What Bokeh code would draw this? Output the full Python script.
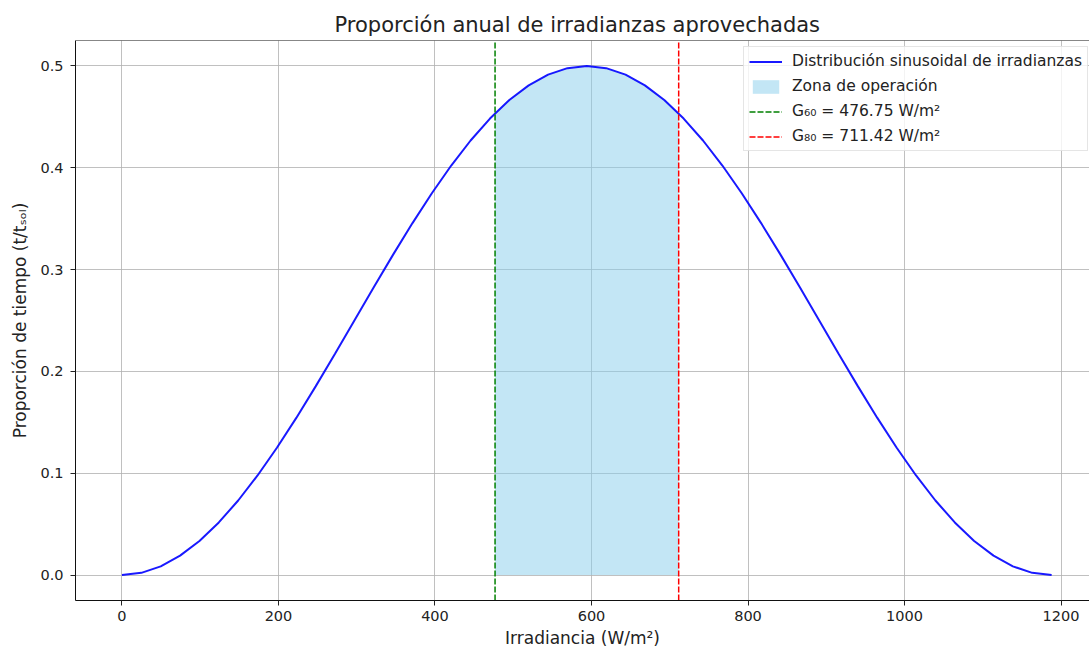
from bokeh.plotting import figure
from bokeh.models import Range1d, PrintfTickFormatter, Span, Legend, LegendItem
from bokeh.embed import file_html
from bokeh.resources import INLINE

# ---- data ----
irradiance = [0, 24.75, 49.5, 74.25, 99, 123.75, 148.5, 173.25, 198, 222.75, 247.5,
              272.25, 297, 321.75, 346.5, 371.25, 396, 420.75, 445.5, 470.25, 495,
              519.75, 544.5, 569.25, 594, 618.75, 643.5, 668.25, 693, 717.75, 742.5,
              767.25, 792, 816.75, 841.5, 866.25, 891, 915.75, 940.5, 965.25, 990,
              1014.75, 1039.5, 1064.25, 1089, 1113.75, 1138.5, 1163.25, 1188]
proportion = [0.0, 0.00214, 0.00852, 0.01903, 0.03349, 0.05166, 0.07322, 0.09781,
              0.125, 0.15433, 0.1853, 0.21737, 0.25, 0.28263, 0.3147, 0.34567, 0.375,
              0.40219, 0.42678, 0.44834, 0.46651, 0.48097, 0.49148, 0.49786, 0.5,
              0.49786, 0.49148, 0.48097, 0.46651, 0.44834, 0.42678, 0.40219, 0.375,
              0.34567, 0.3147, 0.28263, 0.25, 0.21737, 0.1853, 0.15433, 0.125,
              0.09781, 0.07322, 0.05166, 0.03349, 0.01903, 0.00852, 0.00214, 0.0]

g60 = 476.75
g80 = 711.42
zone_x = [476.75, 495, 519.75, 544.5, 569.25, 594, 618.75, 643.5, 668.25, 693, 711.42]
zone_y = [0.4534, 0.46651, 0.48097, 0.49148, 0.49786, 0.5, 0.49786, 0.49148, 0.48097,
          0.46651, 0.4534]

x_ticks = [0, 200, 400, 600, 800, 1000, 1200]
y_ticks = [0.0, 0.1, 0.2, 0.3, 0.4, 0.5]
x_lo, x_hi = -59.4, 1236.4
y_lo, y_hi = -0.025, 0.525

title = "Proporción anual de irradianzas aprovechadas"
x_label = "Irradiancia (W/m²)"
y_label = "Proporción de tiempo (t/tₛₒₗ)"
lbl_curve = "Distribución sinusoidal de irradianzas"
lbl_zone = "Zona de operación"
lbl_g60 = "G₆₀ = 476.75 W/m²"
lbl_g80 = "G₈₀ = 711.42 W/m²"

FONT = "DejaVu Sans"
TXT = "#222222"
DASH = "6 2"

p = figure(width=1089, height=650, x_range=Range1d(x_lo, x_hi), y_range=Range1d(y_lo, y_hi),
           output_backend="svg", toolbar_location=None, title=title,
           min_border_left=75, min_border_right=0, min_border_top=40, min_border_bottom=49)
p.outline_line_color = None
p.background_fill_color = "white"
p.border_fill_color = "white"

p.title.text_font = FONT
p.title.text_font_size = "21px"
p.title.text_font_style = "normal"
p.title.text_color = TXT
p.title.align = "left"
p.title.offset = 259
p.title.standoff = 8

p.xaxis.ticker = x_ticks
p.yaxis.ticker = y_ticks
p.xaxis.formatter = PrintfTickFormatter(format="%d")
p.yaxis.formatter = PrintfTickFormatter(format="%.1f")
for ax in (p.xaxis, p.yaxis):
    ax.major_label_text_font = FONT
    ax.major_label_text_font_size = "14.5px"
    ax.major_label_text_color = TXT
    ax.axis_label_text_font = FONT
    ax.axis_label_text_font_size = "17px"
    ax.axis_label_text_font_style = "normal"
    ax.axis_label_text_color = TXT
    ax.major_tick_in = 0
    ax.major_tick_out = 5
    ax.major_tick_line_color = "#222222"
    ax.minor_tick_line_color = None
    ax.axis_line_color = "#111111"
    ax.axis_line_width = 1
p.xaxis.axis_label = x_label
p.yaxis.axis_label = y_label
p.xaxis.major_label_standoff = 5
p.xaxis.axis_label_standoff = 4
p.yaxis.major_label_standoff = 7
p.yaxis.axis_label_standoff = 7

p.grid.grid_line_color = "#b0b0b0"
p.grid.grid_line_width = 1
p.grid.grid_line_alpha = 0.8

r_zone = p.varea(x=zone_x, y1=0, y2=zone_y, fill_color="#87ceeb", fill_alpha=0.5)
r_curve = p.line(irradiance, proportion, line_color="blue", line_width=2, line_alpha=0.9)
r_g60 = p.line(x=[g60, g60], y=[y_lo, y_hi], line_color="green", line_dash=DASH, line_width=1.5)
r_g80 = p.line(x=[g80, g80], y=[y_lo, y_hi], line_color="red", line_dash=DASH, line_width=1.5)

p.add_layout(Span(location=y_hi, dimension="width", line_color="#111111", line_width=1))

legend = Legend(items=[LegendItem(label=lbl_curve, renderers=[r_curve]),
                       LegendItem(label=lbl_zone, renderers=[r_zone]),
                       LegendItem(label=lbl_g60, renderers=[r_g60]),
                       LegendItem(label=lbl_g80, renderers=[r_g80])],
                location=(668, 449))
legend.label_text_font = FONT
legend.label_text_font_size = "15.5px"
legend.label_text_color = TXT
legend.glyph_width = 33
legend.glyph_height = 17
legend.label_height = 17
legend.label_standoff = 10
legend.spacing = 7
legend.padding = 5
legend.margin = 0
legend.border_line_color = "#cccccc"
legend.border_line_width = 1
legend.background_fill_color = "white"
legend.background_fill_alpha = 0.8
p.add_layout(legend)

open("out.html", "w").write(file_html(p, INLINE))
